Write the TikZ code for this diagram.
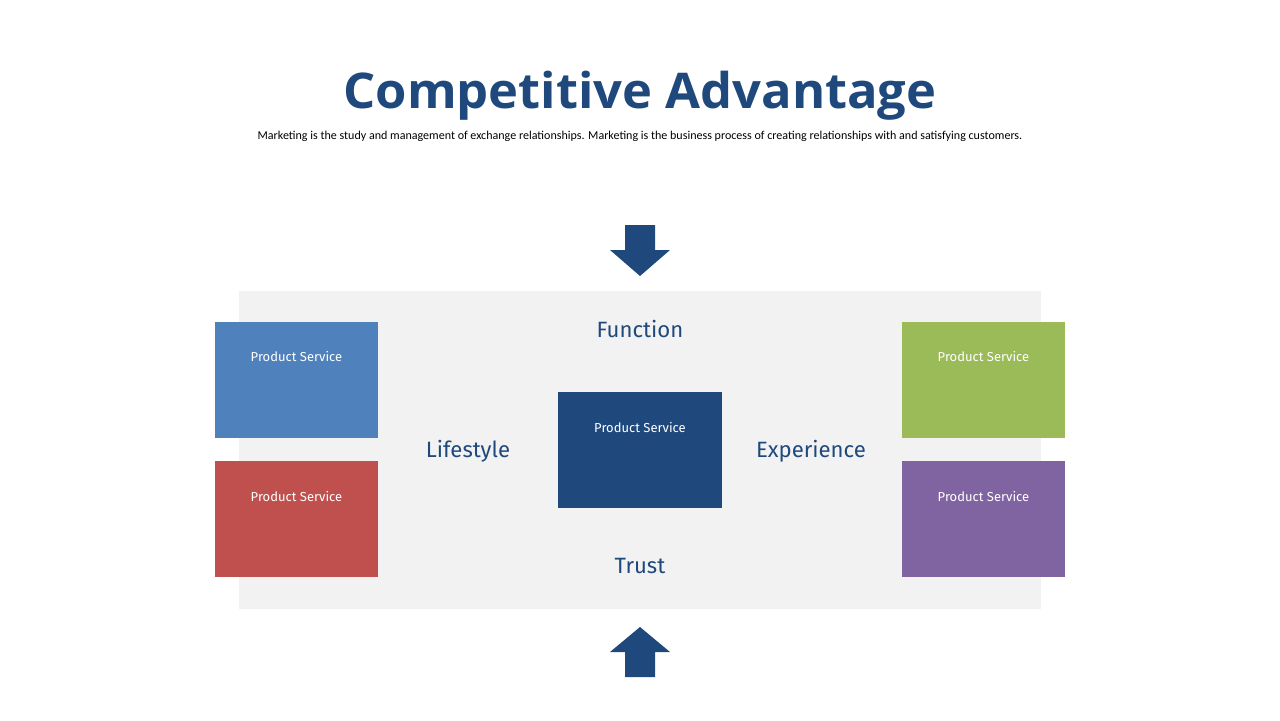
\documentclass[tikz,border=0pt]{standalone}
\usepackage{fontspec}
\setmainfont{Fira Sans}
\newfontfamily\titlefont{Open Sans}
\newfontfamily\bodyfont{Carlito}
\definecolor{navy}{HTML}{1F497D}
\definecolor{panel}{HTML}{F2F2F2}
\definecolor{psblue}{HTML}{4F81BD}
\definecolor{psred}{HTML}{C0504D}
\definecolor{psgreen}{HTML}{9BBB59}
\definecolor{pspurple}{HTML}{8064A2}
\begin{document}
\begin{tikzpicture}[
   x=0.02cm,y=-0.02cm,
   box/.style={anchor=north west,minimum width=3.26cm,minimum height=2.32cm,inner sep=0pt,outer sep=0pt},
   pslabel/.style={anchor=base,text=white,font=\fontsize{7.4}{9}\selectfont},
   theme/.style={anchor=base,text=navy,font=\fontsize{12.6}{14}\selectfont},
   blockarrow/.style={fill=navy,draw=none}]
\useasboundingbox[fill=white] (0,0) rectangle (1280,720);
\node[anchor=base,text=navy,font=\titlefont\fontsize{28}{32}\selectfont\bfseries] (title) at (640,108) {\scalebox{1.03}[1]{Competitive Advantage}};
\node[anchor=base,font=\bodyfont\fontsize{6.85}{8}\selectfont] (subtitle) at (640,139) {Marketing is the study and management of exchange relationships. Marketing is the business process of creating relationships with and satisfying customers.};
% panel
\node[box,fill=panel,minimum width=16.04cm,minimum height=6.36cm] (panel) at (239,291) {};
% boxes
\node[box,fill=psblue] (LT) at (215,322) {};
\node[box,fill=psred] (LB) at (215,461) {};
\node[box,fill=psgreen] (RT) at (902,322) {};
\node[box,fill=pspurple] (RB) at (902,461) {};
\node[box,fill=navy,minimum width=3.28cm] (C) at (558,392) {};
\foreach \b in {LT,LB,RT,RB,C}
   \node[pslabel] at ([yshift=-0.8cm]\b.north) {Product Service};
% themes
\node[theme] (function) at (640,337) {Function};
\node[theme] (lifestyle) at (468,457) {Lifestyle};
\node[theme] (experience) at (811,457) {Experience};
\node[theme] (trust) at (640,573) {Trust};
% arrows
\fill[blockarrow] (625,225) -- (655,225) -- (655,250) -- (670,250) -- (640,276) -- (610,250) -- (625,250) -- cycle;
\fill[blockarrow] (625,677) -- (655,677) -- (655,652) -- (670,652) -- (640,627) -- (610,652) -- (625,652) -- cycle;
\end{tikzpicture}
\end{document}
